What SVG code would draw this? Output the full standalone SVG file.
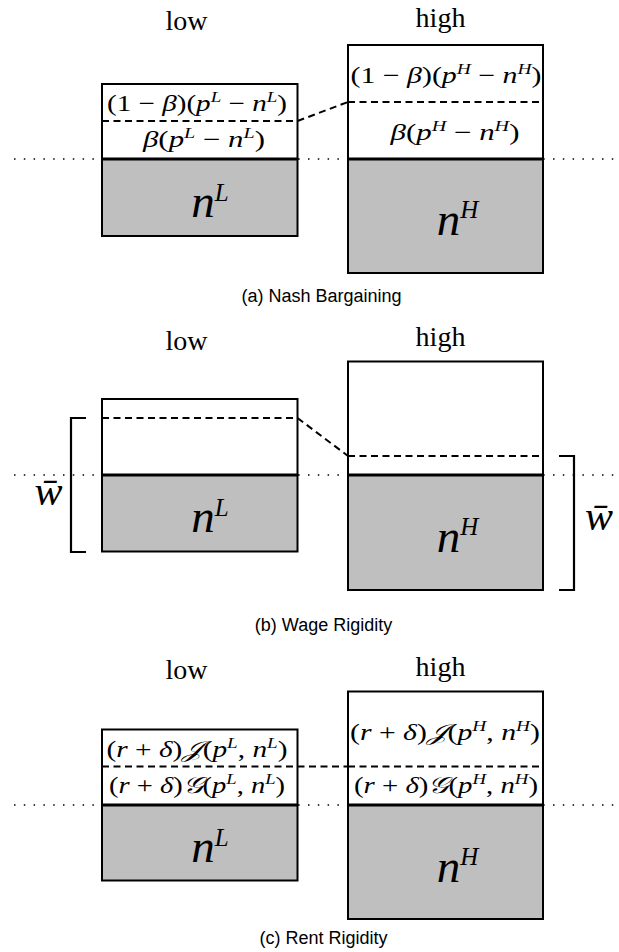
<svg xmlns="http://www.w3.org/2000/svg" width="619" height="952" viewBox="0 0 619 952">
<style>
.bg{fill:#fff}
.box{fill:#fff;stroke:#000;stroke-width:2}
.gray{fill:#bfbfbf;stroke:#000;stroke-width:2}
.thick{stroke:#000;stroke-width:3.2}
.dash{stroke:#000;stroke-width:2;stroke-dasharray:7 4.5;fill:none}
.dot{stroke:#000;stroke-width:1.5;stroke-dasharray:1.5 8.3;fill:none}
.br{stroke:#000;stroke-width:2.2;fill:none}
.lbl{font-family:"Liberation Serif",serif;font-size:28px;text-anchor:middle}
.m{font-family:"Liberation Serif","DejaVu Serif",serif;font-size:23px;text-anchor:middle}
.i{font-style:italic}
.s{font-size:15px;font-style:italic}
.big{font-family:"Liberation Serif",serif;font-size:47px;text-anchor:middle;font-style:italic}
.bs{font-size:25px;font-style:italic}
.w{font-family:"Liberation Serif",serif;font-size:42px;text-anchor:middle;font-style:italic}
.cap{font-family:"Liberation Sans",sans-serif;font-size:18px;text-anchor:middle}
</style>
<rect class="bg" x="0" y="0" width="619" height="952"/>

<g id="connectors">
  <line class="dot" x1="14" y1="159" x2="619" y2="159"/>
  <line class="dot" x1="14" y1="475" x2="619" y2="475"/>
  <line class="dot" x1="14" y1="805" x2="619" y2="805"/>
  <line class="dash" x1="297.5" y1="121" x2="348" y2="102"/>
  <line class="dash" x1="297.5" y1="418" x2="348" y2="456"/>
  <line class="dash" x1="297.5" y1="766.5" x2="348" y2="766.5"/>
</g>

<!-- Panel (a) -->
<g id="a-low">
  <text class="lbl" x="186.5" y="30">low</text>
  <rect class="box" x="102" y="84" width="195.5" height="75"/>
  <rect class="gray" x="102" y="159" width="195.5" height="77"/>
  <line class="dash" x1="102" y1="121" x2="297.5" y2="121"/>
  <line class="thick" x1="102" y1="159" x2="297.5" y2="159"/>
  <text class="m" x="197" y="111" textLength="180" lengthAdjust="spacingAndGlyphs">(1 − <tspan class="i">β</tspan>)(<tspan class="i">p</tspan><tspan class="s" dy="-9">L</tspan><tspan dy="9"> − </tspan><tspan class="i">n</tspan><tspan class="s" dy="-9">L</tspan><tspan dy="9">)</tspan></text>
  <text class="m" x="204" y="147" textLength="122" lengthAdjust="spacingAndGlyphs"><tspan class="i">β</tspan>(<tspan class="i">p</tspan><tspan class="s" dy="-9">L</tspan><tspan dy="9"> − </tspan><tspan class="i">n</tspan><tspan class="s" dy="-9">L</tspan><tspan dy="9">)</tspan></text>
  <text class="big" x="210" y="217">n<tspan class="bs" dy="-16">L</tspan></text>
</g>
<g id="a-high">
  <text class="lbl" x="440.5" y="27">high</text>
  <rect class="box" x="348" y="45" width="195" height="114"/>
  <rect class="gray" x="348" y="159" width="195" height="114"/>
  <line class="dash" x1="348" y1="102" x2="543" y2="102"/>
  <line class="thick" x1="348" y1="159" x2="543" y2="159"/>
  <text class="m" x="446" y="83" textLength="191" lengthAdjust="spacingAndGlyphs">(1 − <tspan class="i">β</tspan>)(<tspan class="i">p</tspan><tspan class="s" dy="-9">H</tspan><tspan dy="9"> − </tspan><tspan class="i">n</tspan><tspan class="s" dy="-9">H</tspan><tspan dy="9">)</tspan></text>
  <text class="m" x="455" y="140" textLength="129" lengthAdjust="spacingAndGlyphs"><tspan class="i">β</tspan>(<tspan class="i">p</tspan><tspan class="s" dy="-9">H</tspan><tspan dy="9"> − </tspan><tspan class="i">n</tspan><tspan class="s" dy="-9">H</tspan><tspan dy="9">)</tspan></text>
  <text class="big" x="457.5" y="235">n<tspan class="bs" dy="-17">H</tspan></text>
</g>
<g id="a-caption">
  <text class="cap" x="321.5" y="302">(a) Nash Bargaining</text>
</g>

<!-- Panel (b) -->
<g id="b-low">
  <text class="lbl" x="186.5" y="350">low</text>
  <rect class="box" x="102" y="399" width="195.5" height="76"/>
  <rect class="gray" x="102" y="475" width="195.5" height="76.5"/>
  <line class="dash" x1="102" y1="418" x2="297.5" y2="418"/>
  <line class="thick" x1="102" y1="475" x2="297.5" y2="475"/>
  <text class="big" x="210" y="532">n<tspan class="bs" dy="-16">L</tspan></text>
</g>
<g id="b-high">
  <text class="lbl" x="440.5" y="346">high</text>
  <rect class="box" x="348" y="361.5" width="195" height="113.5"/>
  <rect class="gray" x="348" y="475" width="195" height="115"/>
  <line class="dash" x1="348" y1="456" x2="543" y2="456"/>
  <line class="thick" x1="348" y1="475" x2="543" y2="475"/>
  <text class="big" x="457.5" y="552">n<tspan class="bs" dy="-17">H</tspan></text>
</g>
<g id="b-wbar-left">
  <path class="br" d="M86,418 H71 V552 H86"/>
  <text class="w" x="48.5" y="505">w̄</text>
</g>
<g id="b-wbar-right">
  <path class="br" d="M559,456 H574 V590 H559"/>
  <text class="w" x="599" y="530">w̄</text>
</g>
<g id="b-caption">
  <text class="cap" x="323.5" y="631">(b) Wage Rigidity</text>
</g>

<!-- Panel (c) -->
<g id="c-low">
  <text class="lbl" x="186.5" y="679">low</text>
  <rect class="box" x="102" y="729.5" width="195.5" height="75.5"/>
  <rect class="gray" x="102" y="805" width="195.5" height="75.5"/>
  <line class="dash" x1="102" y1="766.5" x2="297.5" y2="766.5"/>
  <line class="thick" x1="102" y1="805" x2="297.5" y2="805"/>
  <text class="m" x="197" y="757" textLength="181" lengthAdjust="spacingAndGlyphs">(<tspan class="i">r</tspan> + <tspan class="i">δ</tspan>)<tspan class="i">𝒥</tspan>(<tspan class="i">p</tspan><tspan class="s" dy="-9">L</tspan><tspan dy="9">, </tspan><tspan class="i">n</tspan><tspan class="s" dy="-9">L</tspan><tspan dy="9">)</tspan></text>
  <text class="m" x="197" y="793" textLength="176" lengthAdjust="spacingAndGlyphs">(<tspan class="i">r</tspan> + <tspan class="i">δ</tspan>)<tspan class="i">𝒢</tspan>(<tspan class="i">p</tspan><tspan class="s" dy="-9">L</tspan><tspan dy="9">, </tspan><tspan class="i">n</tspan><tspan class="s" dy="-9">L</tspan><tspan dy="9">)</tspan></text>
  <text class="big" x="210" y="862">n<tspan class="bs" dy="-16">L</tspan></text>
</g>
<g id="c-high">
  <text class="lbl" x="440.5" y="676">high</text>
  <rect class="box" x="348" y="691.5" width="195" height="113.5"/>
  <rect class="gray" x="348" y="805" width="195" height="114"/>
  <line class="dash" x1="348" y1="766.5" x2="543" y2="766.5"/>
  <line class="thick" x1="348" y1="805" x2="543" y2="805"/>
  <text class="m" x="445" y="740" textLength="190" lengthAdjust="spacingAndGlyphs">(<tspan class="i">r</tspan> + <tspan class="i">δ</tspan>)<tspan class="i">𝒥</tspan>(<tspan class="i">p</tspan><tspan class="s" dy="-9">H</tspan><tspan dy="9">, </tspan><tspan class="i">n</tspan><tspan class="s" dy="-9">H</tspan><tspan dy="9">)</tspan></text>
  <text class="m" x="446" y="793" textLength="184" lengthAdjust="spacingAndGlyphs">(<tspan class="i">r</tspan> + <tspan class="i">δ</tspan>)<tspan class="i">𝒢</tspan>(<tspan class="i">p</tspan><tspan class="s" dy="-9">H</tspan><tspan dy="9">, </tspan><tspan class="i">n</tspan><tspan class="s" dy="-9">H</tspan><tspan dy="9">)</tspan></text>
  <text class="big" x="457.5" y="882">n<tspan class="bs" dy="-17">H</tspan></text>
</g>
<g id="c-caption">
  <text class="cap" x="323.5" y="944">(c) Rent Rigidity</text>
</g>
</svg>
